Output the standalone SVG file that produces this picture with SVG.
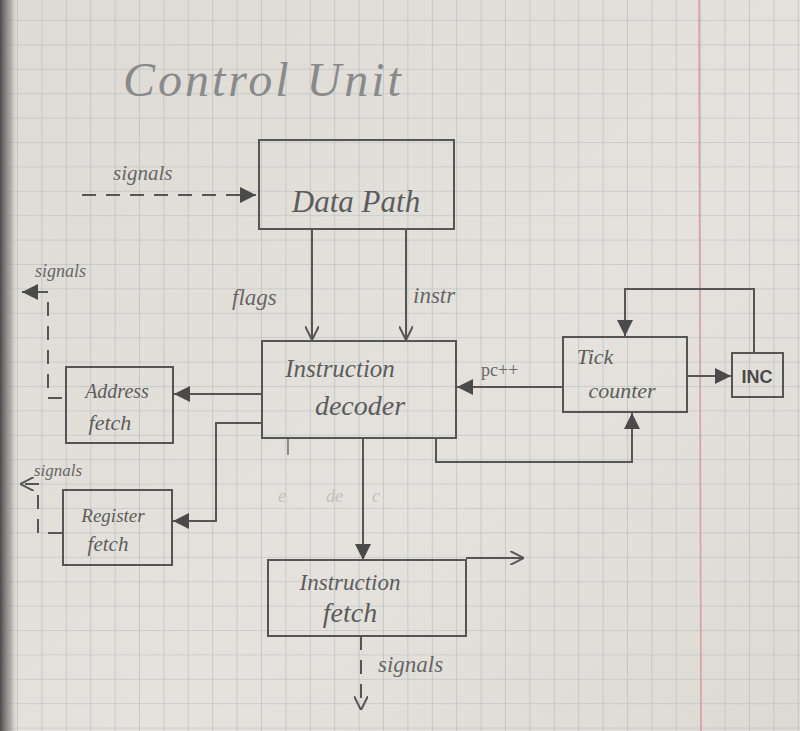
<svg xmlns="http://www.w3.org/2000/svg" width="800" height="731" viewBox="0 0 800 731">
<defs>
<linearGradient id="paper" x1="0" y1="0" x2="1" y2="1">
<stop offset="0" stop-color="#dedbd5"/>
<stop offset="0.6" stop-color="#e5e2dd"/>
<stop offset="1" stop-color="#dddad4"/>
</linearGradient>
<linearGradient id="shadow" x1="0" y1="0" x2="1" y2="0">
<stop offset="0" stop-color="#4a4a4a"/>
<stop offset="0.6" stop-color="#8c8a86" stop-opacity="0.6"/>
<stop offset="1" stop-color="#dedbd5" stop-opacity="0"/>
</linearGradient>
<pattern id="grid" x="17" y="20" width="24.4" height="24.4" patternUnits="userSpaceOnUse">
<path d="M0,0 H24.4 M0,0 V24.4" fill="none" stroke="#afbabd" stroke-width="1.2"/>
</pattern>
<marker id="tri" viewBox="0 0 10 10" refX="10" refY="5" markerWidth="16" markerHeight="16" markerUnits="userSpaceOnUse" orient="auto">
<path d="M0,0 L10,5 L0,10 z" fill="#4a4a4a"/>
</marker>
<marker id="open" viewBox="0 0 10 10" refX="10" refY="5" markerWidth="14" markerHeight="14" markerUnits="userSpaceOnUse" orient="auto">
<path d="M0,0 L10,5 L0,10" fill="none" stroke="#555" stroke-width="1.4"/>
</marker>
</defs>
<style>
.box{fill:none;stroke:#555;stroke-width:2}
.ln{fill:none;stroke:#555;stroke-width:2}
.dash{fill:none;stroke:#555;stroke-width:2;stroke-dasharray:14 10}
.hand{font-family:"Liberation Serif",serif;font-style:italic;fill:#5c5c5c}
.lbl{font-family:"Liberation Serif",serif;font-style:italic;fill:#666}
.faint{font-family:"Liberation Serif",serif;font-style:italic;fill:#c2c0bb}
</style>
<rect width="800" height="731" fill="url(#paper)"/>
<rect width="800" height="731" fill="url(#grid)"/>
<line x1="699" y1="0" x2="701" y2="731" stroke="#d9a0a0" stroke-width="1.6"/>
<rect width="18" height="731" fill="url(#shadow)"/>

<text x="123" y="96" font-family="Liberation Serif, serif" font-style="italic" font-size="48" fill="#8a8a8a" letter-spacing="3">Control  Unit</text>

<g id="connectors">
<path class="dash" d="M82,195 H256" marker-end="url(#tri)"/>
<path class="ln" d="M312,229 V340" marker-end="url(#open)"/>
<path class="ln" d="M406,229 V340" marker-end="url(#open)"/>
<path class="ln" d="M262,394 H174" marker-end="url(#tri)"/>
<path class="ln" d="M262,423 H216 V521 H173" marker-end="url(#tri)"/>
<path class="ln" d="M563,387 H457" marker-end="url(#tri)"/>
<path class="ln" d="M687,376 H731" marker-end="url(#tri)"/>
<path class="ln" d="M754,353 V289 H625 V336" marker-end="url(#tri)"/>
<path class="ln" d="M436,438 V462 H632 V413" marker-end="url(#tri)"/>
<path class="ln" d="M363,438 V560" marker-end="url(#tri)"/>
<path class="ln" d="M466,558 H524" marker-end="url(#open)"/>
<path class="dash" d="M361,636 V710" marker-end="url(#open)"/>
<path class="dash" d="M62,398 H48 V292 H22" marker-end="url(#tri)"/>
<path class="dash" d="M62,533 H38 V484 H20" marker-end="url(#open)"/>
<path class="ln" d="M288,438 V455" stroke-opacity="0.6"/>
<text x="113" y="180" class="lbl" font-size="21">signals</text>
<text x="232" y="305" class="lbl" font-size="23">flags</text>
<text x="413" y="303" class="lbl" font-size="23">instr</text>
<text x="481" y="376" font-family="Liberation Serif, serif" font-size="18" fill="#666">pc++</text>
<text x="35" y="277" class="lbl" font-size="18">signals</text>
<text x="34" y="476" class="lbl" font-size="17">signals</text>
<text x="378" y="672" class="lbl" font-size="23">signals</text>
<text x="278" y="502" class="faint" font-size="18">e</text>
<text x="326" y="502" class="faint" font-size="18">de</text>
<text x="372" y="502" class="faint" font-size="18">c</text>
</g>

<g id="data-path">
<rect class="box" x="259" y="140" width="195" height="89"/>
<text x="356" y="212" class="hand" font-size="31" text-anchor="middle">Data Path</text>
</g>

<g id="instruction-decoder">
<rect class="box" x="262" y="341" width="194" height="97"/>
<text x="340" y="377" class="hand" font-size="25" text-anchor="middle">Instruction</text>
<text x="360" y="415" class="hand" font-size="28" text-anchor="middle">decoder</text>
</g>

<g id="address-fetch">
<rect class="box" x="66" y="367" width="107" height="76"/>
<text x="117" y="398" class="hand" font-size="20" text-anchor="middle">Address</text>
<text x="110" y="430" class="hand" font-size="22" text-anchor="middle">fetch</text>
</g>

<g id="register-fetch">
<rect class="box" x="63" y="490" width="109" height="75"/>
<text x="113" y="522" class="hand" font-size="19" text-anchor="middle">Register</text>
<text x="108" y="551" class="hand" font-size="21" text-anchor="middle">fetch</text>
</g>

<g id="instruction-fetch">
<rect class="box" x="268" y="560" width="198" height="76"/>
<text x="350" y="590" class="hand" font-size="23" text-anchor="middle">Instruction</text>
<text x="350" y="622" class="hand" font-size="28" text-anchor="middle">fetch</text>
</g>

<g id="tick-counter">
<rect class="box" x="563" y="337" width="124" height="75"/>
<text x="595" y="364" class="hand" font-size="22" text-anchor="middle">Tick</text>
<text x="622" y="398" class="hand" font-size="22" text-anchor="middle">counter</text>
</g>

<g id="inc">
<rect class="box" x="732" y="353" width="51" height="44"/>
<text x="757" y="383" font-family="Liberation Sans, sans-serif" font-weight="bold" font-size="18" fill="#4a4a4a" text-anchor="middle">INC</text>
</g>
</svg>
